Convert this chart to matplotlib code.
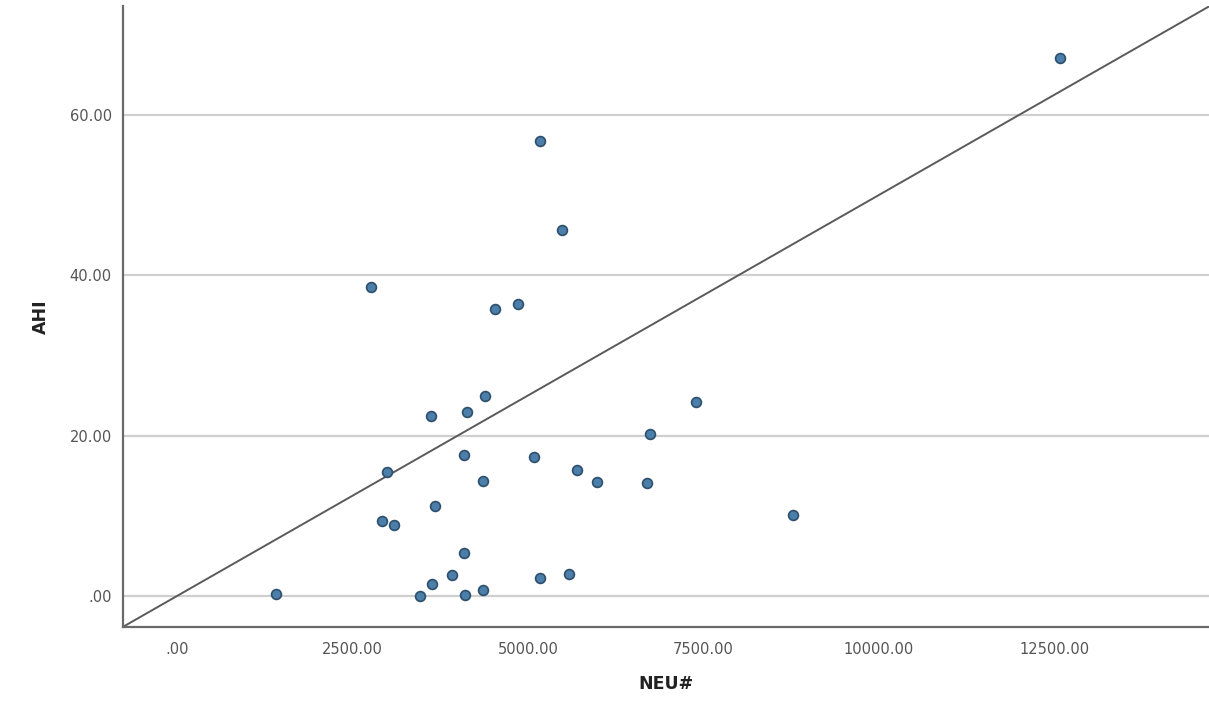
import matplotlib
matplotlib.use("Agg")
import matplotlib.pyplot as plt
import numpy as np

# NEU# vs AHI observations
neu = [1407, 2765, 2926, 2998, 3098, 3463, 3620, 3630, 3673, 3915,
       4091, 4091, 4105, 4129, 4366, 4366, 4390, 4532, 4860, 5088,
       5174, 5174, 5488, 5587, 5697, 5991, 6695, 6737, 7393, 8784,
       12586]
ahi = [0.2, 38.5, 9.3, 15.5, 8.9, 0.0, 22.5, 1.5, 11.2, 2.6,
       17.55, 5.3, 0.1, 22.9, 14.3, 0.75, 25.0, 35.8, 36.4, 17.3,
       56.8, 2.3, 45.7, 2.8, 15.7, 14.2, 14.05, 20.2, 24.2, 10.1,
       67.1]

# reference line: AHI = intercept + slope * NEU#
line_coef = [0.0, 0.005]

x_ticks = [0, 2500, 5000, 7500, 10000, 12500]
y_ticks = [0, 20, 40, 60]

W, H = 1209, 706
fig = plt.figure(figsize=(W / 100, H / 100), dpi=100)
ax = fig.add_axes([123 / W, (H - 627) / H, (W - 123) / W, (627 - 6) / H])

xlim = (-770, 14709)
ylim = (-3.87, 73.6)
ax.set_xlim(*xlim)
ax.set_ylim(*ylim)

for yt in y_ticks:
    ax.axhline(yt, color="#cfcfcf", lw=1.6, zorder=1)

xs = np.array(xlim)
ax.plot(xs, line_coef[0] + line_coef[1] * xs, color="#5a5a5a", lw=1.4, zorder=2)

ax.scatter(neu, ahi, s=50, facecolor="#4b7fa9", edgecolor="#2d4f6d",
           linewidth=1.2, zorder=3)


def fmt(v):
    return ".00" if v == 0 else f"{v}.00"


ax.set_xticks(x_ticks)
ax.set_xticklabels([fmt(v) for v in x_ticks])
ax.set_yticks(y_ticks)
ax.set_yticklabels([fmt(v) for v in y_ticks])
ax.tick_params(length=0, labelsize=10.5, labelcolor="#555555")
ax.tick_params(axis="x", pad=11)
ax.tick_params(axis="y", pad=8)

for side in ("top", "right"):
    ax.spines[side].set_visible(False)
for side in ("left", "bottom"):
    ax.spines[side].set_color("#6a6a6a")
    ax.spines[side].set_linewidth(1.6)

ax.set_xlabel("NEU#", fontsize=12.5, fontweight="bold", color="#222222", labelpad=13)
ax.set_ylabel("AHI", fontsize=12.5, fontweight="bold", color="#222222", labelpad=14)

fig.savefig("out.png", dpi=100, facecolor="white")
